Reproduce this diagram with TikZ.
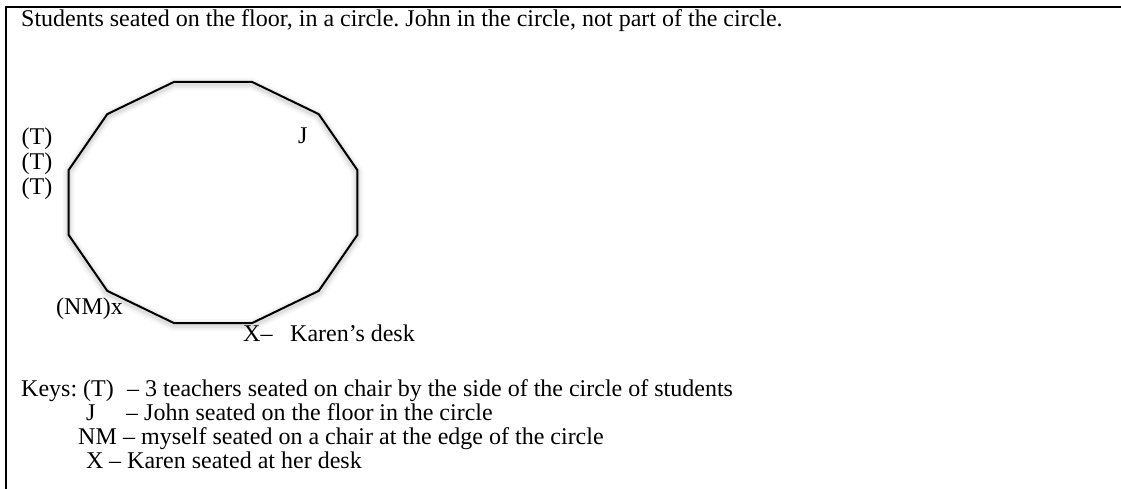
\documentclass[tikz,border=0pt]{standalone}
\usepackage{fontspec}
\setmainfont{Liberation Serif}
\frenchspacing
\begin{document}
\begin{tikzpicture}[x=1pt,y=-1pt,
  txt/.style={inner sep=0pt, anchor=base west, font=\fontsize{24}{26}\selectfont},
  frame/.style={line width=2.5pt},
  ring/.style={line width=2pt, line join=miter},
  glow/.style={gray, line join=round}]
\useasboundingbox (0,0) rectangle (1121,489);
\fill[white] (0,0) rectangle (1121,489);
% frame (top and left edges only)
\draw[frame] (6,489) -- (6,7) -- (1121,7);
% soft shadow of the circle
\foreach \w/\o in {12/0.06, 8/0.08, 5/0.12}{
  \draw[glow, line width=\w pt, opacity=\o]
    ({213+149.5*cos(15)},{204.5-125*sin(15)})
    foreach \a in {45,75,...,345} { -- ({213+149.5*cos(\a)},{204.5-125*sin(\a)}) } -- cycle;
}
% circle of students (12-gon)
\draw[ring] ({213+149.5*cos(15)},{202.5-125*sin(15)})
  foreach \a in {45,75,...,345} { -- ({213+149.5*cos(\a)},{202.5-125*sin(\a)}) } -- cycle;
% labels
\node[txt] (title) at (21,27) {Students seated on the floor, in a circle. John in the circle, not part of the circle.};
\node[txt] (t1) at (21.5,145) {(T)};
\node[txt] (t2) at (21.5,170) {(T)};
\node[txt] (t3) at (21.5,195) {(T)};
\node[txt] (j) at (298,144) {J};
\node[txt] (nm) at (56,314) {(NM)x};
\node[txt] (xd) at (243,341) {X–};
\node[txt] (kd) at (290,341) {Karen’s desk};
% keys
\node[txt] (keys) at (21,396) {Keys: (T)};
\node[txt] (kTd) at (127,396) {– 3 teachers seated on chair by the side of the circle of students};
\node[txt] (kJ) at (86,420) {J};
\node[txt] (kJd) at (126,420) {– John seated on the floor in the circle};
\node[txt] (kN) at (78,444) {NM};
\node[txt] (kNd) at (123,444) {– myself seated on a chair at the edge of the circle};
\node[txt] (kX) at (86,468) {X};
\node[txt] (kXd) at (109,468) {– Karen seated at her desk};
\end{tikzpicture}
\end{document}
